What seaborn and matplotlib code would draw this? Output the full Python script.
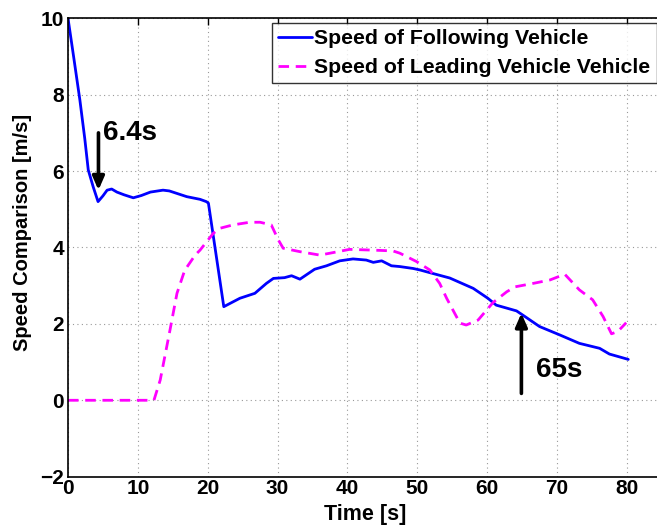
import numpy as np
import pandas as pd
import seaborn as sns
import matplotlib
matplotlib.use("Agg")
import matplotlib.pyplot as plt

# Speed of the following vehicle (time in s, speed in m/s)
follow_t = [0, 0.8, 1.7, 2.4, 2.9, 3.6, 4.3, 5.0, 5.6, 6.25, 7.0, 8.0, 9.35, 10.5, 11.8,
            13.6, 14.5, 15.5, 17.0, 18.9, 19.8, 20.1, 22.3, 24.6, 26.75, 28.4, 29.4,
            31.0, 32.0, 33.2, 35.3, 37.0, 38.9, 40.8, 42.7, 43.7, 44.9, 46.3, 47.5,
            49.4, 50.4, 51.8, 54.65, 58.0, 60.1, 61.3, 64.2, 65.1, 67.5, 70.4, 73.2,
            76.1, 77.5, 80.2]
follow_v = [10.0, 9.0, 7.86, 6.85, 6.03, 5.59, 5.2, 5.35, 5.5, 5.53, 5.45, 5.38, 5.3, 5.36,
            5.45, 5.5, 5.48, 5.42, 5.33, 5.26, 5.2, 5.16, 2.45, 2.67, 2.8, 3.06, 3.19,
            3.21, 3.26, 3.17, 3.43, 3.52, 3.65, 3.70, 3.67, 3.61, 3.65, 3.52, 3.5,
            3.45, 3.41, 3.34, 3.2, 2.93, 2.67, 2.49, 2.34, 2.23, 1.93, 1.71, 1.49,
            1.36, 1.21, 1.07]

# Speed of the leading vehicle
lead_t = [0, 12.3, 13.2, 14.6, 15.6, 16.7, 18.2, 18.9, 20.8, 21.7, 23.6, 26.0, 27.5, 29.1,
          30.1, 30.8, 33.2, 36.05, 37.5, 40.3, 43.7, 46.5, 47.5, 49.9, 51.8, 53.2, 54.2,
          56.1, 57.0, 58.7, 60.85, 62.8, 64.0, 66.6, 69.0, 71.1, 73.2, 75.1, 76.6, 77.8,
          78.7, 79.9]
lead_v = [0, 0, 0.53, 1.84, 2.8, 3.4, 3.8, 3.93, 4.37, 4.5, 4.59, 4.66, 4.66, 4.59,
          4.2, 3.98, 3.89, 3.80, 3.85, 3.95, 3.93, 3.91, 3.85, 3.63, 3.41, 3.06, 2.67,
          2.02, 1.97, 2.10, 2.56, 2.84, 2.97, 3.06, 3.15, 3.30, 2.89, 2.63, 2.19, 1.74,
          1.80, 2.03]

x_ticks = [0, 10, 20, 30, 40, 50, 60, 70, 80]
y_ticks = [-2, 0, 2, 4, 6, 8, 10]

sns.set_style("white")
plt.rcParams["font.family"] = ["Liberation Sans", "DejaVu Sans"]
plt.rcParams["font.weight"] = "bold"
plt.rcParams["axes.labelweight"] = "bold"
plt.rcParams["text.color"] = "black"
plt.rcParams["axes.labelcolor"] = "black"
plt.rcParams["xtick.color"] = "black"
plt.rcParams["ytick.color"] = "black"

fig = plt.figure(figsize=(6.57, 5.29), dpi=100)
ax = fig.add_axes([0.1035, 0.0989, 0.957, 0.8666])

sns.lineplot(x=follow_t, y=follow_v, ax=ax, color="#0000ff", lw=2.0,
             label="Speed of Following Vehicle", estimator=None, sort=False)
sns.lineplot(x=lead_t, y=lead_v, ax=ax, color="#ff00ff", lw=2.0,
             label="Speed of Leading Vehicle Vehicle", estimator=None, sort=False)
ax.lines[1].set_dashes([3.8, 2.4])

ax.set_xlim(0, 90)
ax.set_ylim(-2, 10)
ax.set_xticks(x_ticks)
ax.set_yticks(y_ticks)
ax.set_yticklabels(["\u22122" if v < 0 else str(v) for v in y_ticks])
ax.tick_params(direction="in", top=True, right=True, length=5, width=1,
               labelsize=15, pad=3)
ax.tick_params(axis="x", pad=2)
for lab in ax.get_xticklabels() + ax.get_yticklabels():
    lab.set_fontweight("bold")
ax.grid(True, linestyle=(0, (1, 3)), color="#999999", lw=0.8)
for sp in ax.spines.values():
    sp.set_color("black")
    sp.set_linewidth(1.2)

ax.set_xlabel("Time [s]", fontsize=15.5, fontweight="bold", va="center")
ax.set_ylabel("Speed Comparison [m/s]", fontsize=14.5, fontweight="bold", va="center")
ax.xaxis.set_label_coords(0.472, -0.083)
ax.yaxis.set_label_coords(-0.072, 0.532)

# Arrow markers for the two highlighted instants
arrow_style = dict(arrowstyle="-|>,head_length=0.8,head_width=0.35", color="black",
                   lw=2.6, shrinkA=0, shrinkB=0)
ax.annotate("", xy=(4.36, 5.5), xytext=(4.36, 7.0), arrowprops=arrow_style)
ax.text(5.0, 7.0, "6.4s", fontsize=20, fontweight="bold", va="center", ha="left")
ax.annotate("", xy=(64.9, 2.28), xytext=(64.9, 0.18), arrowprops=arrow_style)
ax.text(67.0, 0.79, "65s", fontsize=20, fontweight="bold", va="center", ha="left")

leg = ax.legend(loc="upper left", bbox_to_anchor=(272 / 657, 1 - 23 / 529),
                bbox_transform=fig.transFigure, fontsize=15.3, frameon=True,
                fancybox=False, edgecolor="black", handlelength=1.6,
                handletextpad=0.1, borderpad=0.3, labelspacing=0.45, borderaxespad=0)
leg.get_frame().set_linewidth(1.0)
for t in leg.get_texts():
    t.set_fontweight("bold")

fig.savefig("out.png", dpi=100)
